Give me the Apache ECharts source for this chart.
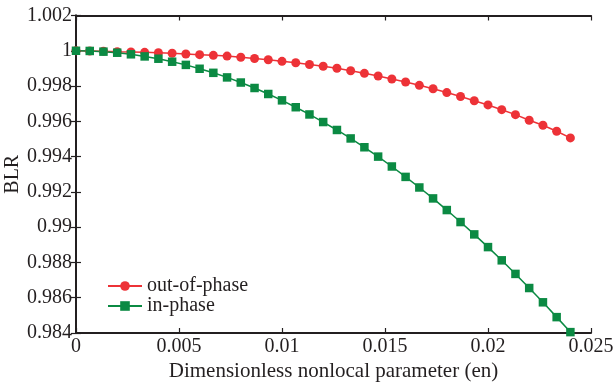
<!DOCTYPE html>
<html>
<head>
<meta charset="utf-8">
<script src="https://cdn.jsdelivr.net/npm/echarts@6/dist/echarts.min.js"></script>
<style>
html,body{margin:0;padding:0;background:#fff;}
#c{width:614px;height:387px;}
</style>
</head>
<body>
<div id="c"></div>
<script>
const enValues = [0,0.000667,0.001333,0.002,0.002667,0.003333,0.004,0.004667,0.005333,0.006,0.006667,0.007333,0.008,0.008667,0.009333,0.01,0.010667,0.011333,0.012,0.012667,0.013333,0.014,0.014667,0.015333,0.016,0.016667,0.017333,0.018,0.018667,0.019333,0.02,0.020667,0.021333,0.022,0.022667,0.023333,0.024];
const outOfPhase = [1.00000,0.99999,0.99998,0.99995,0.99993,0.99991,0.99989,0.99986,0.99982,0.99978,0.99974,0.99970,0.99963,0.99956,0.99949,0.99940,0.99932,0.99922,0.99912,0.99901,0.99887,0.99872,0.99857,0.99840,0.99823,0.99804,0.99785,0.99763,0.99741,0.99717,0.99693,0.99666,0.99638,0.99606,0.99578,0.99544,0.99506];
const inPhase = [1.00000,0.99999,0.99995,0.99989,0.99980,0.99968,0.99955,0.99938,0.99920,0.99898,0.99875,0.99849,0.99820,0.99789,0.99755,0.99719,0.99680,0.99639,0.99596,0.99551,0.99503,0.99453,0.99400,0.99344,0.99285,0.99225,0.99163,0.99097,0.99029,0.98959,0.98887,0.98812,0.98735,0.98655,0.98574,0.98490,0.98405];
const seriesNames = ['out-of-phase','in-phase'];
const xTicks = {min:0, max:0.025, interval:0.005};
const yTicks = {min:0.984, max:1.002, interval:0.002};

const font = 'Liberation Serif';
const axisColor = '#231f20';
function pair(xs, ys){ return xs.map((x,i)=>[x, ys[i]]); }
const baseAxisLine = {show:true, lineStyle:{color:axisColor, width:2}};
const baseTick = {show:true, inside:true, length:5, lineStyle:{color:axisColor, width:1.2}};

const chart = echarts.init(document.getElementById('c'), null, {renderer:'canvas'});
chart.setOption({
  animation:false,
  backgroundColor:'#fff',
  grid:{left:76, right:23, top:15.5, bottom:54, containLabel:false, outerBoundsMode:'none'},
  legend:{
    orient:'vertical', left:102, top:271,
    itemWidth:34, itemHeight:12, itemGap:0,
    textStyle:{fontFamily:font, fontSize:20, color:'#231f20'},
    data:seriesNames
  },
  xAxis:[{
    type:'value', min:xTicks.min, max:xTicks.max, interval:xTicks.interval,
    name:'Dimensionless nonlocal parameter (en)', nameLocation:'middle', nameGap:28, nameMoveOverlap:false,
    nameTextStyle:{fontFamily:font, fontSize:21, color:'#231f20'},
    axisLine:baseAxisLine, axisTick:baseTick, splitLine:{show:false},
    axisLabel:{fontFamily:font, fontSize:20, color:'#231f20', margin:4,
      formatter:v=>String(parseFloat(v.toFixed(3)))}
  },{
    type:'value', position:'top', min:xTicks.min, max:xTicks.max, interval:xTicks.interval,
    axisLine:baseAxisLine, axisTick:baseTick, splitLine:{show:false}, axisLabel:{show:false}
  }],
  yAxis:[{
    type:'value', min:yTicks.min, max:yTicks.max, interval:yTicks.interval,
    name:'BLR', nameLocation:'middle', nameGap:53, nameRotate:90, nameMoveOverlap:false,
    nameTextStyle:{fontFamily:font, fontSize:20, color:'#231f20'},
    axisLine:baseAxisLine, axisTick:baseTick, splitLine:{show:false},
    axisLabel:{fontFamily:font, fontSize:20, color:'#231f20', margin:4,
      formatter:v=>String(parseFloat(v.toFixed(3)))}
  },{
    type:'value', position:'right', min:yTicks.min, max:yTicks.max, interval:yTicks.interval,
    axisLine:baseAxisLine, axisTick:baseTick, splitLine:{show:false}, axisLabel:{show:false}
  }],
  series:[{
    name:seriesNames[0], type:'line', data:pair(enValues,outOfPhase),
    symbol:'circle', symbolSize:9, clip:false,
    itemStyle:{color:'#ed3237'}, lineStyle:{color:'#ed3237', width:1.5}
  },{
    name:seriesNames[1], type:'line', data:pair(enValues,inPhase),
    symbol:'rect', symbolSize:8.5, clip:false,
    itemStyle:{color:'#0b8a43'}, lineStyle:{color:'#0b8a43', width:1.5}
  }]
});
</script>
</body>
</html>
